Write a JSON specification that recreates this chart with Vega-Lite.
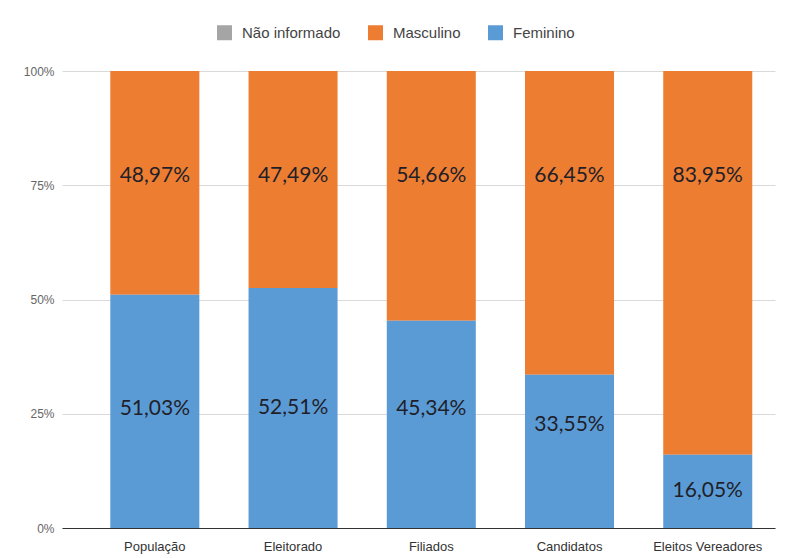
{
  "$schema": "https://vega.github.io/schema/vega-lite/v6.json",
  "width": 713,
  "height": 457,
  "autosize": {"type": "none"},
  "padding": {"left": 62, "top": 71, "right": 16, "bottom": 30},
  "background": "white",
  "config": {
    "view": {"stroke": null},
    "locale": {"number": {"decimal": ",", "thousands": ".", "grouping": [3], "currency": ["", ""]}},
    "font": "Liberation Sans"
  },
  "data": {
    "values": [
      {"categoria": "População", "sexo": "Masculino", "valor": 48.97},
      {"categoria": "População", "sexo": "Feminino", "valor": 51.03},
      {"categoria": "Eleitorado", "sexo": "Masculino", "valor": 47.49},
      {"categoria": "Eleitorado", "sexo": "Feminino", "valor": 52.51},
      {"categoria": "Filiados", "sexo": "Masculino", "valor": 54.66},
      {"categoria": "Filiados", "sexo": "Feminino", "valor": 45.34},
      {"categoria": "Candidatos", "sexo": "Masculino", "valor": 66.45},
      {"categoria": "Candidatos", "sexo": "Feminino", "valor": 33.55},
      {"categoria": "Eleitos  Vereadores", "sexo": "Masculino", "valor": 83.95},
      {"categoria": "Eleitos  Vereadores", "sexo": "Feminino", "valor": 16.05}
    ]
  },
  "transform": [
    {"calculate": "datum.valor / 100", "as": "frac"},
    {"calculate": "datum.sexo === 'Feminino' ? 0 : 1", "as": "ordem"},
    {"calculate": "datum.sexo === 'Masculino' ? 0.77 : max(datum.frac / 2, min(0.26, datum.frac - 0.11))", "as": "pos"}
  ],
  "encoding": {
    "x": {
      "field": "categoria",
      "type": "nominal",
      "sort": null,
      "scale": {"paddingInner": 0.356, "paddingOuter": 0.257, "align": 0.68},
      "axis": {
        "title": null,
        "labelAngle": 0,
        "ticks": false,
        "domainColor": "#333333",
        "domainWidth": 1.2,
        "labelColor": "#333333",
        "labelFontSize": 13,
        "labelPadding": 12,
        "grid": false
      }
    }
  },
  "layer": [
    {
      "mark": {"type": "bar"},
      "encoding": {
        "y": {
          "field": "valor",
          "type": "quantitative",
          "stack": "normalize",
          "scale": {"domain": [0, 1]},
          "axis": {
            "title": null,
            "values": [0, 0.25, 0.5, 0.75, 1],
            "format": ".0%",
            "domain": false,
            "ticks": false,
            "labelPadding": 8,
            "labelColor": "#666666",
            "labelFontSize": 12,
            "gridColor": "#d9d9d9",
            "gridWidth": 1
          }
        },
        "color": {
          "field": "sexo",
          "type": "nominal",
          "scale": {
            "domain": ["Não informado", "Masculino", "Feminino"],
            "range": ["#a5a5a5", "#ed7d31", "#5b9bd5"]
          },
          "legend": {
            "title": null,
            "orient": "none",
            "direction": "horizontal",
            "legendX": 155,
            "legendY": -46,
            "symbolType": "square",
            "symbolSize": 225,
            "symbolStrokeWidth": 0,
            "labelFontSize": 15,
            "labelColor": "#444444",
            "columnPadding": 27,
            "labelOffset": 10
          }
        },
        "order": {"field": "ordem", "type": "quantitative"}
      }
    },
    {
      "mark": {"type": "text", "font": "Lato", "fontSize": 21, "color": "#1f1f2a", "baseline": "middle"},
      "encoding": {
        "y": {"field": "pos", "type": "quantitative", "stack": null},
        "text": {"field": "frac", "type": "quantitative", "format": ".2%"}
      }
    }
  ]
}
